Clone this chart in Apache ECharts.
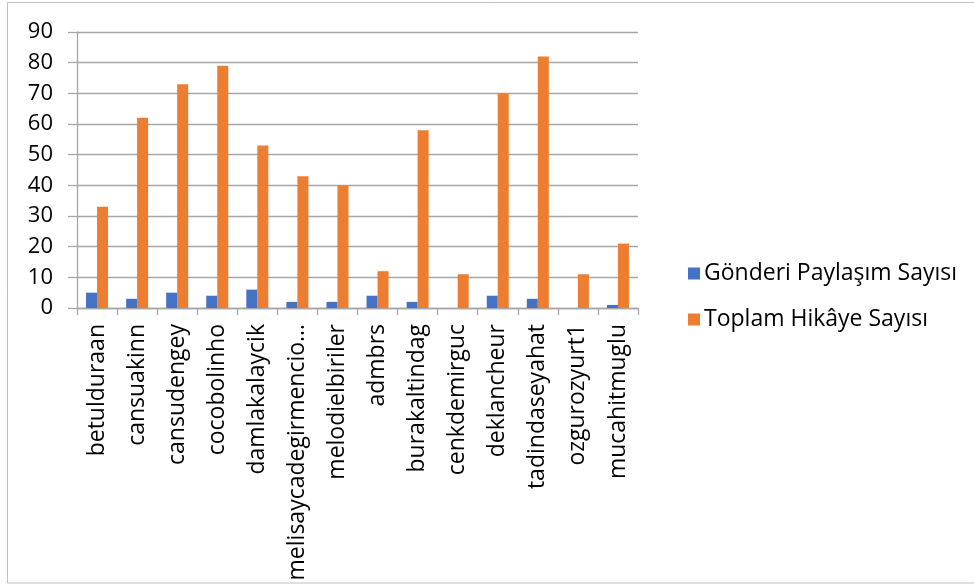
<!DOCTYPE html>
<html><head><meta charset="utf-8">
<script src="https://cdn.jsdelivr.net/npm/echarts@6/dist/echarts.min.js"></script>
<style>html,body{margin:0;padding:0;background:#fff}#c{width:974px;height:587px}</style>
</head><body><div id="c"></div>
<script>
const categories = ["betulduraan","cansuakinn","cansudengey","cocobolinho","damlakalaycik","melisaycadegirmencio…","melodielbiriler","admbrs","burakaltindag","cenkdemirguc","deklancheur","tadindaseyahat","ozgurozyurt1","mucahitmuglu"];
const gonderi = [5,3,5,4,6,2,2,4,2,0,4,3,0,1];
const hikaye = [33,62,73,79,53,43,40,12,58,11,70,82,11,21];
const seriesNames = ["Gönderi Paylaşım Sayısı","Toplam Hikâye Sayısı"];
const yTicks = [0,10,20,30,40,50,60,70,80,90];

const FONT = "Open Sans";
const chart = echarts.init(document.getElementById('c'), null, {renderer:'canvas'});
chart.setOption({
  animation:false,
  textStyle:{fontFamily:FONT},
  graphic:[{type:'rect',shape:{x:7.5,y:2.5,width:980,height:580.5},style:{fill:'none',stroke:'#BFBFBF',lineWidth:1},silent:true}],
  grid:{left:77,top:32,width:561,height:276,containLabel:false},
  legend:{orient:'vertical',left:683,top:255,itemWidth:12,itemHeight:12,itemGap:19,icon:'rect',
    textStyle:{fontFamily:FONT,fontSize:23,color:'#000',lineHeight:27,padding:[0,0,0,-1]},
    data:seriesNames},
  xAxis:{type:'category',data:categories,
    axisLine:{lineStyle:{color:'#A6A6A6',width:1.3}},
    axisTick:{show:true,length:7,lineStyle:{color:'#A6A6A6',width:1.3},alignWithLabel:false},
    axisLabel:{rotate:90,interval:0,margin:16,fontFamily:FONT,fontSize:23,color:'#000'}},
  yAxis:{type:'value',min:0,max:90,interval:10,
    axisLine:{show:true,lineStyle:{color:'#A6A6A6',width:1.3}},
    axisTick:{show:true,length:9,lineStyle:{color:'#A6A6A6',width:1.3}},
    splitLine:{lineStyle:{color:'#A6A6A6',width:1.3}},
    axisLabel:{margin:24,fontFamily:FONT,fontSize:22,color:'#000',formatter:v=>yTicks.includes(v)?String(v):''}},
  series:[
    {name:seriesNames[0],type:'bar',data:gonderi,barWidth:11,barGap:'0%',itemStyle:{color:'#4472C4'}},
    {name:seriesNames[1],type:'bar',data:hikaye,barWidth:11,barGap:'0%',itemStyle:{color:'#ED7D31'}}
  ]
});
</script></body></html>
